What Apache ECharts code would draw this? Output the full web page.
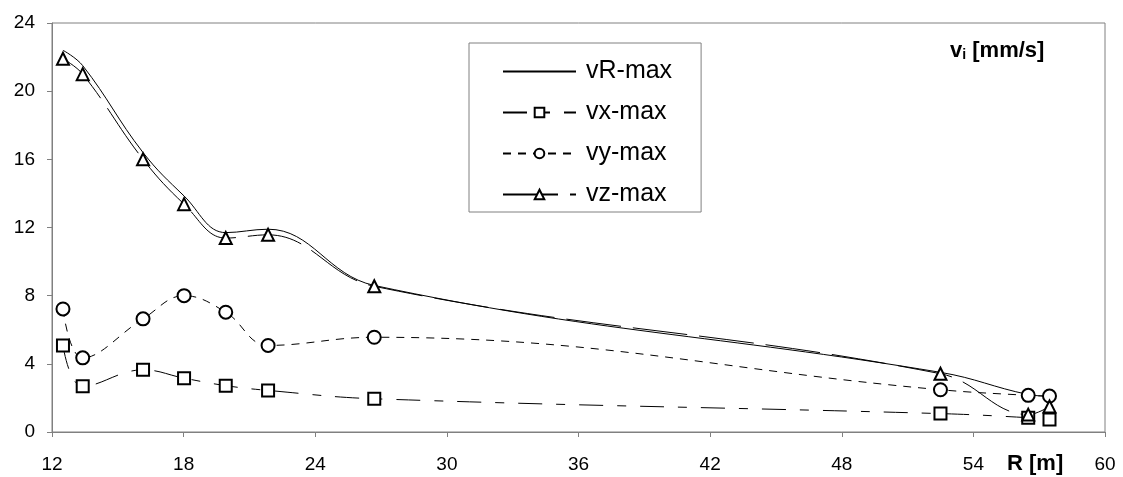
<!DOCTYPE html>
<html>
<head>
<meta charset="utf-8">
<script src="https://cdn.jsdelivr.net/npm/echarts@6/dist/echarts.min.js"></script>
<style>
html, body { margin: 0; padding: 0; background: #fff; }
#chart { width: 1123px; height: 477px; }
</style>
</head>
<body>
<div id="chart"></div>
<script>
// distances R [m]
var dist = [12.5, 13.4, 16.15, 18.02, 19.92, 21.85, 26.69, 52.5, 56.5, 57.47];
// peak velocities [mm/s]
var vR = [22.4, 21.5, 16.4, 13.85, 11.7, 11.9, 8.6, 3.5, 2.2, 2.1];
var vX = [5.08, 2.68, 3.65, 3.16, 2.72, 2.44, 1.95, 1.08, 0.84, 0.74];
var vY = [7.22, 4.35, 6.64, 8.0, 7.03, 5.08, 5.56, 2.48, 2.15, 2.11];
var vZ = [21.9, 21.0, 16.0, 13.37, 11.38, 11.57, 8.55, 3.42, 1.02, 1.5];

function pairs(ys) {
    return dist.map(function (d, i) { return [d, ys[i]]; });
}

var myChart = echarts.init(document.getElementById('chart'));
var font = 'Liberation Sans, Arial, sans-serif';
var mark = {color: '#fff', borderColor: '#000', borderWidth: 2};

var option = {
    animation: false,
    textStyle: {fontFamily: font},
    grid: {left: 52, top: 23, right: 18, bottom: 45, show: true, borderColor: '#808080', borderWidth: 1},
    legend: {
        left: 469, top: 43, orient: 'vertical',
        borderColor: '#808080', borderWidth: 1,
        padding: [16, 29, 5, 33],
        itemWidth: 73, itemHeight: 12, itemGap: 16,
        textStyle: {fontSize: 25, color: '#000', fontFamily: font, padding: [0, 0, 0, 5]},
        data: [{name: 'vR-max', itemStyle: {opacity: 0}}, 'vx-max', 'vy-max', 'vz-max']
    },
    xAxis: {
        type: 'value', min: 12, max: 60, interval: 6,
        splitLine: {show: false},
        axisLine: {lineStyle: {color: '#808080'}},
        axisTick: {length: 5, lineStyle: {color: '#808080'}},
        axisLabel: {fontSize: 19, color: '#000', margin: 23}
    },
    yAxis: {
        type: 'value', min: 0, max: 24, interval: 4,
        splitLine: {show: false},
        axisLine: {show: true, lineStyle: {color: '#808080'}},
        axisTick: {show: true, length: 5, lineStyle: {color: '#808080'}},
        axisLabel: {fontSize: 19, color: '#000', margin: 17}
    },
    graphic: [
        {type: 'text', left: 1007, top: 453,
            style: {text: 'R [m]', fontSize: 22, fontWeight: 'bold', fill: '#000', fontFamily: font}},
        {type: 'text', left: 950, top: 40,
            style: {
                text: '{a|v}{b|i}{a| [mm/s]}', fill: '#000', fontFamily: font,
                rich: {
                    a: {fontSize: 22, fontWeight: 'bold', fontFamily: font},
                    b: {fontSize: 14, fontWeight: 'bold', fontFamily: font, verticalAlign: 'bottom', padding: [9, 0, 0, 0]}
                }
            }}
    ],
    series: [
        {
            name: 'vR-max', type: 'line', data: pairs(vR), smooth: 0.4,
            symbol: 'none', z: 2,
            lineStyle: {color: '#000', width: 1},
            itemStyle: {color: '#000'}
        },
        {
            name: 'vx-max', type: 'line', data: pairs(vX), smooth: 0.4,
            symbol: 'rect', symbolSize: 12, z: 3,
            lineStyle: {color: '#000', width: 1, type: [24, 14, 9, 14]},
            itemStyle: mark
        },
        {
            name: 'vy-max', type: 'line', data: pairs(vY), smooth: 0.4,
            symbol: 'circle', symbolSize: 13, z: 3,
            lineStyle: {color: '#000', width: 1, type: [8, 7]},
            itemStyle: mark
        },
        {
            name: 'vz-max', type: 'line', data: pairs(vZ), smooth: 0.4,
            symbol: 'triangle', symbolSize: 12, z: 3,
            lineStyle: {color: '#000', width: 1, type: [55, 12]},
            itemStyle: mark
        }
    ]
};
if (option && typeof option === "object") {
    myChart.setOption(option, true);
}
</script>
</body>
</html>
